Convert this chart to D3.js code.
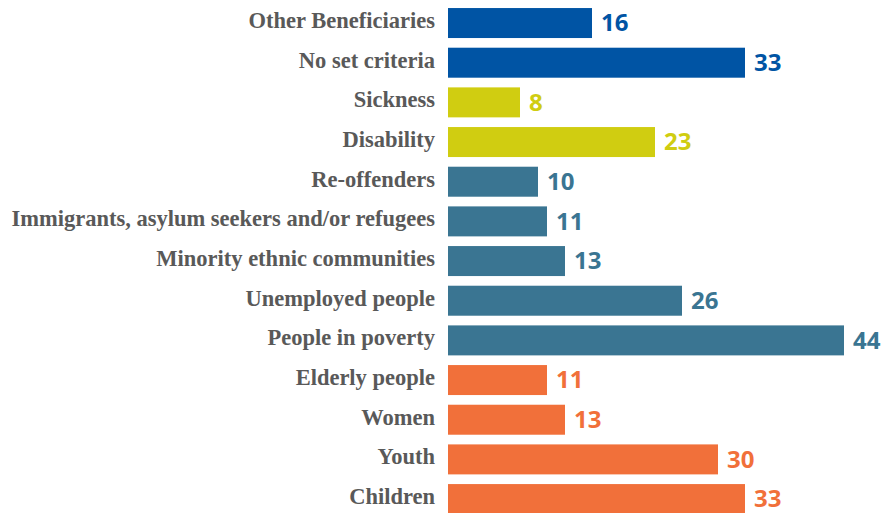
<!DOCTYPE html>
<html><head><meta charset="utf-8">
<script src="https://cdn.jsdelivr.net/npm/d3@7/dist/d3.min.js"></script>
<style>html,body{margin:0;padding:0;background:#fff;}</style>
</head><body>
<svg id="chart" width="893" height="513"></svg>
<script>
const categories = ["Other Beneficiaries","No set criteria","Sickness","Disability","Re-offenders","Immigrants, asylum seekers and/or refugees","Minority ethnic communities","Unemployed people","People in poverty","Elderly people","Women","Youth","Children"];
const values = [16,33,8,23,10,11,13,26,44,11,13,30,33];
const groups = ["other","other","health","health","social","social","social","social","social","demo","demo","demo","demo"];
const groupNames = ["other","health","social","demo"];
const groupColors = ["#0054A4","#D0CD11","#3A7592","#F1703A"];

const data = categories.map((c,i)=>({cat:c, val:values[i], grp:groups[i]}));
const svg = d3.select("#chart");
const x = d3.scaleLinear().domain([0,44]).range([448,844]);
const y = d3.scaleBand().domain(categories).range([3.2,518.9]).paddingInner(0.244).paddingOuter(0.122);
const color = d3.scaleOrdinal().domain(groupNames).range(groupColors);

svg.selectAll("rect.bar").data(data).join("rect").attr("class","bar")
  .attr("x", x(0)).attr("y", d=>y(d.cat)).attr("width", d=>x(d.val)-x(0)).attr("height", y.bandwidth())
  .attr("fill", d=>color(d.grp));

svg.selectAll("text.val").data(data).join("text").attr("class","val")
  .attr("x", d=>x(d.val)+9).attr("y", d=>y(d.cat)+y.bandwidth()/2).attr("dy","0.35em")
  .attr("font-family","'Open Sans', sans-serif").attr("font-weight","bold").attr("font-size","24px")
  .attr("fill", d=>color(d.grp)).text(d=>d.val);

svg.selectAll("text.lab").data(data).join("text").attr("class","lab")
  .attr("x", 435).attr("y", d=>y(d.cat)+y.bandwidth()/2).attr("dy","0.22em")
  .attr("text-anchor","end")
  .attr("font-family","'Liberation Serif', serif").attr("font-weight","bold").attr("font-size","22.5px")
  .attr("fill","#595959").text(d=>d.cat);
</script>
</body></html>
